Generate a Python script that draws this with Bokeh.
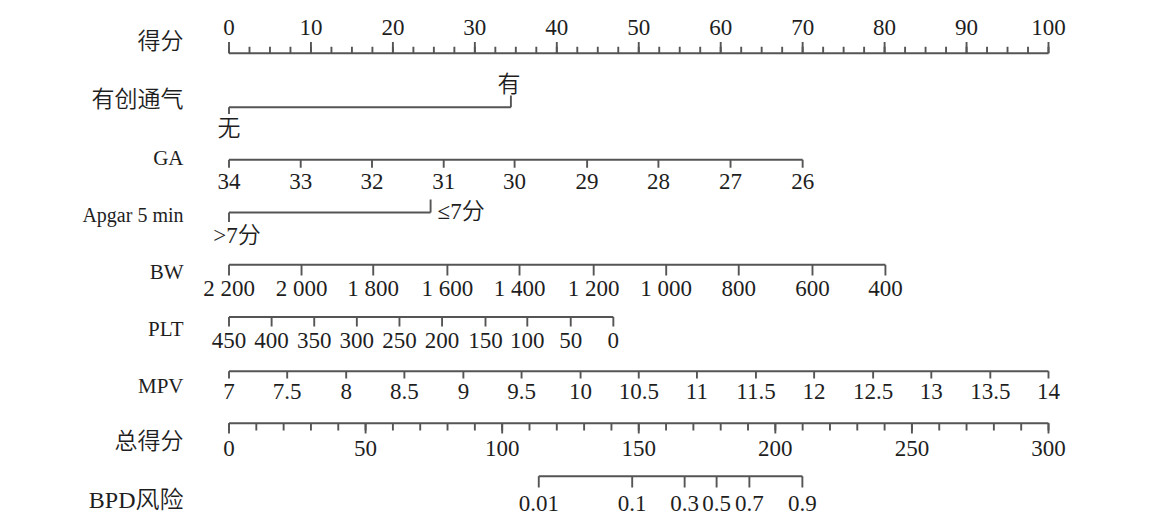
from bokeh.plotting import figure
from bokeh.models import Range1d
from bokeh.core.properties import value
from bokeh.embed import file_html
from bokeh.resources import INLINE

# ---------------- data ----------------
row_names = ["得分", "有创通气", "GA", "Apgar 5 min", "BW", "PLT", "MPV", "总得分", "BPD风险"]

score_labels = ["0", "10", "20", "30", "40", "50", "60", "70", "80", "90", "100"]
score_points = [0, 10, 20, 30, 40, 50, 60, 70, 80, 90, 100]

vent_labels = ["无", "有"]
vent_points = [0, 34.4]

ga_labels = ["34", "33", "32", "31", "30", "29", "28", "27", "26"]
ga_points = [0, 8.75, 17.45, 26.2, 34.85, 43.7, 52.4, 61.2, 70.0]

apgar_labels = [">7分", "≤7分"]
apgar_points = [0, 24.6]

bw_labels = ["2 200", "2 000", "1 800", "1 600", "1 400", "1 200", "1 000", "800", "600", "400"]
bw_points = [0, 8.85, 17.6, 26.65, 35.45, 44.5, 53.35, 62.2, 71.2, 80.1]

plt_labels = ["450", "400", "350", "300", "250", "200", "150", "100", "50", "0"]
plt_points = [0, 5.2, 10.4, 15.6, 20.8, 26.0, 31.3, 36.4, 41.7, 46.9]

mpv_labels = ["7", "7.5", "8", "8.5", "9", "9.5", "10", "10.5", "11", "11.5",
              "12", "12.5", "13", "13.5", "14"]
mpv_points = [0, 7.1, 14.3, 21.4, 28.6, 35.7, 42.9, 50.0, 57.1, 64.3,
              71.4, 78.6, 85.7, 92.9, 100]

total_labels = ["0", "50", "100", "150", "200", "250", "300"]
total_values = [0, 50, 100, 150, 200, 250, 300]

risk_labels = ["0.01", "0.1", "0.3", "0.5", "0.7", "0.9"]
risk_total_points = [113.4, 147.6, 166.8, 178.5, 190.5, 209.9]

# ---------------- layout / style ----------------
LINE = "#555555"
TXT = "#1e1e1e"
FONT = value("Liberation Serif, Noto Sans CJK SC DemiLight, Noto Sans CJK SC")
W, H = 1155, 518
PX_PER_PT = 8.195
X0 = -228.5 / PX_PER_PT
X1 = X0 + W / PX_PER_PT

p = figure(width=W, height=H, x_range=Range1d(X0, X1), y_range=Range1d(H, 0),
           output_backend="svg", toolbar_location=None, min_border=0,
           background_fill_color="white", border_fill_color="white")
p.axis.visible = False
p.grid.visible = False
p.outline_line_color = None

sx0, sy0, sx1, sy1 = [], [], [], []


def seg(x0, y0, x1, y1):
    sx0.append(x0); sy0.append(y0); sx1.append(x1); sy1.append(y1)


def labels(xs, ys, texts, size="23px", align="center", xoff=0):
    p.text(x=xs, y=ys, text=texts, text_font=FONT, text_font_size=size,
           text_color=TXT, text_align=align, text_baseline="middle", x_offset=xoff)


tot_scale = 100.0 / 300.0  # total points -> point axis

# 得分 row
y = 52.7
seg(min(score_points), y, max(score_points), y)
minor = [i * 2.5 for i in range(41)]
for m in minor:
    seg(m, y, m, 46.2)
for s in score_points:
    seg(s, y, s, 41.5)
labels(score_points, [27] * len(score_points), score_labels)

# 有创通气 row
y = 106.7
seg(vent_points[0], y, vent_points[1], y)
seg(vent_points[0], y, vent_points[0], 113.5)
seg(vent_points[1], y, vent_points[1], 95)
labels([vent_points[0]], [128], [vent_labels[0]])
labels([vent_points[1]], [84], [vent_labels[1]], xoff=-2)

# GA row
y = 159.3
seg(min(ga_points), y, max(ga_points), y)
for g in ga_points:
    seg(g, y, g, 167.3)
labels(ga_points, [181] * len(ga_points), ga_labels)

# Apgar row
y = 212
seg(apgar_points[0], y, apgar_points[1], y)
seg(apgar_points[0], y, apgar_points[0], 221.5)
seg(apgar_points[1], y, apgar_points[1], 199)
labels([apgar_points[0]], [235], [apgar_labels[0]], xoff=8)
labels([apgar_points[1]], [211], [apgar_labels[1]], align="left", xoff=7)

# BW row
y = 264.3
seg(min(bw_points), y, max(bw_points), y)
for b in bw_points:
    seg(b, y, b, 275)
labels(bw_points, [288] * len(bw_points), bw_labels)

# PLT row
y = 316.5
seg(min(plt_points), y, max(plt_points), y)
for v in plt_points:
    seg(v, y, v, 326)
labels(plt_points, [340] * len(plt_points), plt_labels)

# MPV row
y = 370.7
seg(min(mpv_points), y, max(mpv_points), y)
for v in mpv_points:
    seg(v, y, v, 378)
labels(mpv_points, [391] * len(mpv_points), mpv_labels)

# 总得分 row
y = 422.7
tp = [v * tot_scale for v in total_values]
seg(min(tp), y, max(tp), y)
for i in range(31):
    m = i * 10 * tot_scale
    seg(m, y, m, 430)
for v in tp:
    seg(v, y, v, 433)
labels(tp, [448] * len(tp), total_labels)

# BPD风险 row
y = 475.7
rp = [v * tot_scale for v in risk_total_points]
seg(min(rp), y, max(rp), y)
for v in rp:
    seg(v, y, v, 487)
labels(rp, [503] * len(rp), risk_labels)

p.segment(x0=sx0, y0=sy0, x1=sx1, y1=sy1, line_color=LINE, line_width=1.9)

# row names (right aligned)
name_y = [41, 99, 157, 214, 271, 328, 385, 441, 499]
name_sizes = ["23px", "23px", "21px", "20px", "21px", "21px", "21px", "23px", "24px"]
name_x = -(228.5 - 183) / PX_PER_PT
for nm, ny, sz in zip(row_names, name_y, name_sizes):
    labels([name_x], [ny], [nm], size=sz, align="right")

open("out.html", "w").write(file_html(p, INLINE))
